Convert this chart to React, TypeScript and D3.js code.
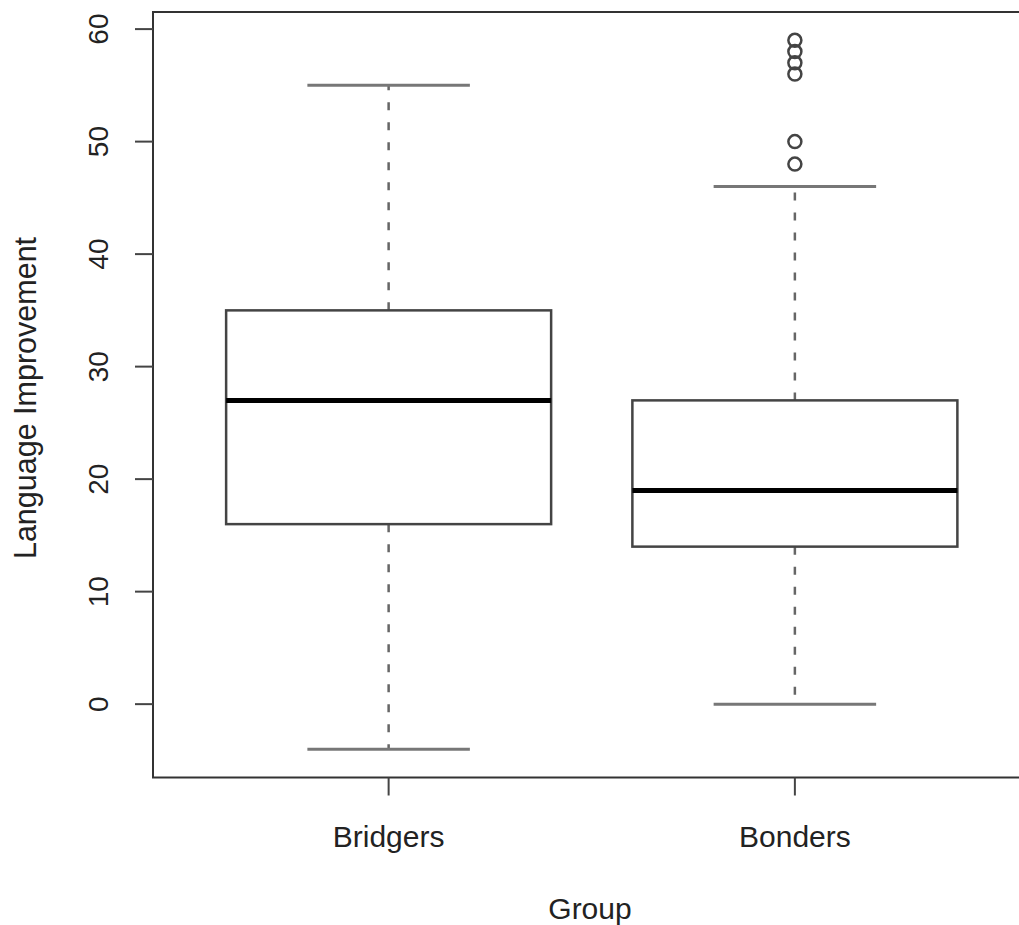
import React from "react";
import * as d3 from "d3";

const groups = ["Bridgers", "Bonders"];
const whiskerLow = [-4, 0];
const q1 = [16, 14];
const median = [27, 19];
const q3 = [35, 27];
const whiskerHigh = [55, 46];
const outliersBridgers: number[] = [];
const outliersBonders = [48, 50, 56, 57, 58, 59];
const outliers = [outliersBridgers, outliersBonders];
const yTicks = [0, 10, 20, 30, 40, 50, 60];
const xTitle = "Group";
const yTitle = "Language Improvement";

const W = 1019;
const H = 925;
const FONT = "'Liberation Sans', Arial, Helvetica, sans-serif";

export default function App() {
  const n = groups.length;
  const allVals = [...whiskerLow, ...whiskerHigh, ...outliers.flat()];
  const yMin = d3.min(allVals)!;
  const yMax = d3.max(allVals)!;
  const yPad = (yMax - yMin) * 0.04;
  const xPad = n * 0.04;
  const x = d3.scaleLinear().domain([0.5 - xPad, n + 0.5 + xPad]).range([153, 1030.5]);
  const y = d3.scaleLinear().domain([yMin - yPad, yMax + yPad]).range([777.5, 12]);
  const boxHalf = 0.4;
  const capHalf = 0.2;
  const [x0, x1] = x.range();
  const [yb, yt] = y.range();

  return (
    <svg width={W} height={H} style={{ position: "absolute", left: 0, top: 0, display: "block", background: "#fff" }}>
      <rect x={x0} y={yt} width={x1 - x0} height={yb - yt} fill="none" stroke="#333" strokeWidth={2} />
      {groups.map((g, i) => {
        const c = x(i + 1);
        const bl = x(i + 1 - boxHalf);
        const br = x(i + 1 + boxHalf);
        const cl = x(i + 1 - capHalf);
        const cr = x(i + 1 + capHalf);
        return (
          <g key={g}>
            <line x1={c} x2={c} y1={y(q3[i])} y2={y(whiskerHigh[i])} stroke="#666" strokeWidth={2.5} strokeDasharray="8,12" />
            <line x1={c} x2={c} y1={y(q1[i])} y2={y(whiskerLow[i])} stroke="#666" strokeWidth={2.5} strokeDasharray="8,12" />
            <line x1={cl} x2={cr} y1={y(whiskerHigh[i])} y2={y(whiskerHigh[i])} stroke="#777" strokeWidth={3} />
            <line x1={cl} x2={cr} y1={y(whiskerLow[i])} y2={y(whiskerLow[i])} stroke="#777" strokeWidth={3} />
            <rect x={bl} y={y(q3[i])} width={br - bl} height={y(q1[i]) - y(q3[i])} fill="#fff" stroke="#444" strokeWidth={2.5} />
            <line x1={bl} x2={br} y1={y(median[i])} y2={y(median[i])} stroke="#000" strokeWidth={5} />
            {outliers[i].map((v, k) => (
              <circle key={k} cx={c} cy={y(v)} r={6.5} fill="none" stroke="#444" strokeWidth={2.5} />
            ))}
          </g>
        );
      })}
      {yTicks.map((t) => (
        <g key={t}>
          <line x1={x0 - 18} x2={x0} y1={y(t)} y2={y(t)} stroke="#444" strokeWidth={2} />
          <text
            transform={`translate(108,${y(t)}) rotate(-90)`}
            textAnchor="middle"
            fontFamily={FONT}
            fontSize={28}
            fill="#222"
          >
            {t}
          </text>
        </g>
      ))}
      {groups.map((g, i) => (
        <g key={g}>
          <line x1={x(i + 1)} x2={x(i + 1)} y1={yb} y2={yb + 18} stroke="#444" strokeWidth={2} />
          <text x={x(i + 1)} y={847} textAnchor="middle" fontFamily={FONT} fontSize={30} fill="#222">
            {g}
          </text>
        </g>
      ))}
      <text x={590} y={919} textAnchor="middle" fontFamily={FONT} fontSize={30} fill="#222">
        {xTitle}
      </text>
      <text
        transform={`translate(36,398) rotate(-90)`}
        textAnchor="middle"
        fontFamily={FONT}
        fontSize={30.5}
        fill="#222"
      >
        {yTitle}
      </text>
    </svg>
  );
}
